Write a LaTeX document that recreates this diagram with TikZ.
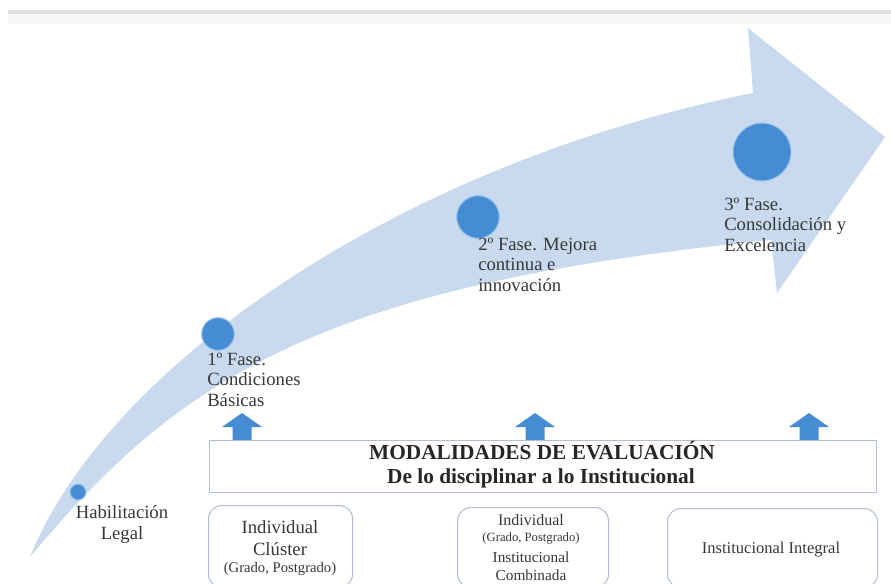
\documentclass[tikz,border=0pt]{standalone}
\usepackage{fontspec}
\setmainfont{Liberation Serif}
\definecolor{bandblue}{RGB}{201,218,238}
\definecolor{dotblue}{RGB}{70,140,210}
\definecolor{dotrim}{RGB}{150,196,238}
\definecolor{txtgray}{RGB}{55,55,55}
\definecolor{boxline}{RGB}{178,190,210}
\definecolor{topline}{RGB}{224,224,224}
\definecolor{topband}{RGB}{247,247,247}
\begin{document}
\begin{tikzpicture}[x=0.75pt,y=-0.75pt,
  dot/.style={circle, fill=dotblue, draw=dotrim, line width=0.8pt, inner sep=0pt},
  lbl/.style={inner sep=0pt, text=txtgray, align=left, font=\fontsize{14}{15.5}\selectfont},
  ctr/.style={inner sep=0pt, text=txtgray, anchor=base},
  mainbox/.style={draw=boxline, fill=white, line width=0.8pt, inner sep=0pt, anchor=north west},
  modbox/.style={draw=boxline, fill=white, line width=0.8pt, rounded corners=10pt, inner sep=0pt, anchor=north west}]
\useasboundingbox (0,0) rectangle (891,584);
\clip (0,0) rectangle (891,584);
% top rule
\fill[topband] (8,14) rectangle (891,24);
\fill[topline] (8,10) rectangle (891,14);
% big curved arrow
\fill[bandblue] (30,557) .. controls (105,370) and (393,165) .. (753,93)
  -- (748,28) -- (885,137) -- (777,293) -- (771,240)
  .. controls (321,285) and (180,377) .. (30,557) -- cycle;
% milestones
\node[dot, minimum size=12pt] (c0) at (78,492) {};
\node[dot, minimum size=24.5pt] (c1) at (218,334) {};
\node[dot, minimum size=32pt] (c2) at (478,217) {};
\node[dot, minimum size=43.5pt] (c3) at (762,152) {};
% phase labels
\node[lbl, anchor=north, align=center] (t0) at (122,505.5) {Habilitación\\Legal};
\node[lbl, anchor=north west] (t1) at (207,352.5) {1º Fase.\\Condiciones\\Básicas};
\node[lbl, anchor=north west] (t2) at (478,237.5) {2º Fase. Mejora\\continua e\\innovación};
\node[lbl, anchor=north west] (t3) at (724,197.5) {3º Fase.\\Consolidación y\\Excelencia};
% small up arrows
\foreach \cx in {242,535,809}{
  \fill[dotblue] ({\cx-20},427) -- (\cx,413) -- ({\cx+20},427) -- ({\cx+9.5},427)
    -- ({\cx+9.5},440) -- ({\cx-9.5},440) -- ({\cx-9.5},427) -- cycle;
}
% main box
\node[mainbox, minimum width=500.25pt, minimum height=39pt] (mod) at (209,440) {};
\node[ctr, font=\fontsize{16}{18}\selectfont\bfseries, text=black!85] (mt1) at (542,459) {MODALIDADES DE EVALUACIÓN};
\node[ctr, font=\fontsize{16}{18}\selectfont\bfseries, text=black!85] (mt2) at (541,483) {De lo disciplinar a lo Institucional};
% modality boxes
\node[modbox, minimum width=108pt, minimum height=61.5pt] (b1) at (208,505) {};
\node[modbox, minimum width=113.25pt, minimum height=60pt] (b2) at (457,507) {};
\node[modbox, minimum width=157.5pt, minimum height=59.25pt] (b3) at (667,508) {};
% box texts
\node[ctr, font=\fontsize{14}{16}\selectfont] (b1a) at (280,533.5) {Individual};
\node[ctr, font=\fontsize{14}{16}\selectfont] (b1b) at (280,555.5) {Clúster};
\node[ctr, font=\fontsize{11}{13}\selectfont] (b1c) at (280,572) {(Grado, Postgrado)};
\node[ctr, font=\fontsize{12}{14}\selectfont] (b2a) at (531,525) {Individual};
\node[ctr, font=\fontsize{9.5}{11}\selectfont] (b2b) at (531,541) {(Grado, Postgrado)};
\node[ctr, font=\fontsize{11.5}{13}\selectfont] (b2c) at (531,562) {Institucional};
\node[ctr, font=\fontsize{11.5}{13}\selectfont] (b2d) at (531,580) {Combinada};
\node[ctr, font=\fontsize{12.4}{14}\selectfont] (b3a) at (771,553) {Institucional Integral};
\end{tikzpicture}
\end{document}
